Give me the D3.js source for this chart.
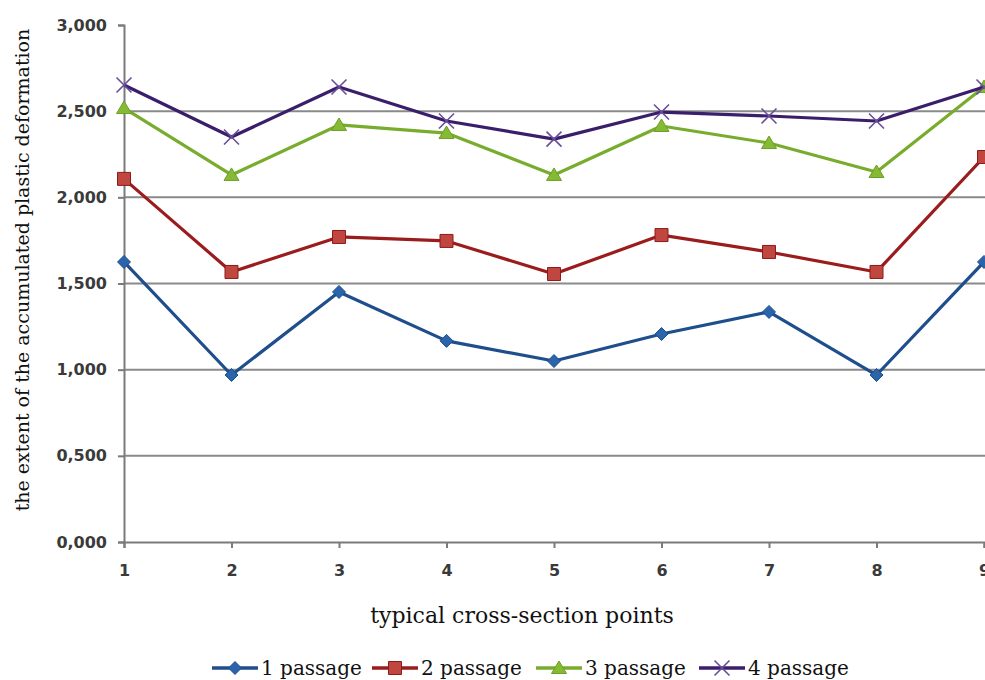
<!DOCTYPE html>
<html>
<head>
<meta charset="utf-8">
<script src="https://cdn.jsdelivr.net/npm/d3@7"></script>
<style>
  html, body { margin: 0; padding: 0; background: #fff; }
  svg { display: block; }
</style>
</head>
<body>
<svg id="chart" width="985" height="680"></svg>
<script>
const categories = [1, 2, 3, 4, 5, 6, 7, 8, 9];
const seriesNames = ["1 passage", "2 passage", "3 passage", "4 passage"];
const passage1 = [1.625, 0.969, 1.451, 1.167, 1.050, 1.207, 1.335, 0.969, 1.625];
const passage2 = [2.107, 1.567, 1.770, 1.747, 1.555, 1.781, 1.683, 1.567, 2.234];
const passage3 = [2.518, 2.130, 2.420, 2.373, 2.130, 2.414, 2.315, 2.147, 2.640];
const passage4 = [2.652, 2.350, 2.640, 2.443, 2.338, 2.495, 2.472, 2.443, 2.640];
const yTicks = [0, 0.5, 1.0, 1.5, 2.0, 2.5, 3.0];
const xTitle = "typical cross-section points";
const yTitle = "the extent of the accumulated plastic deformation";

const seriesValues = [passage1, passage2, passage3, passage4];
const styles = [
  { line: "#1F4E8C", fill: "#2A64AA", stroke: "#1F4E8C", shape: "diamond" },
  { line: "#9B1C1C", fill: "#C0473F", stroke: "#8E1A1A", shape: "square" },
  { line: "#78AC2C", fill: "#84BA34", stroke: "#6E9E28", shape: "triangle" },
  { line: "#3A1E6B", fill: "none", stroke: "#6A4E9A", shape: "x" }
];

const svg = d3.select("#chart");
const x = d3.scaleLinear().domain([1, 9]).range([124, 984]);
const y = d3.scaleLinear().domain([0, 3]).range([542, 25]);

const fmt = v => d3.format(".3f")(v).replace(".", ",");

// gridlines
svg.append("g").selectAll("line")
  .data(yTicks.filter(t => t > 0 && t < 3))
  .join("line")
  .attr("x1", x(1)).attr("x2", 985)
  .attr("y1", d => y(d)).attr("y2", d => y(d))
  .attr("stroke", "#8a8a8a").attr("stroke-width", 2);

const tickFont = "'DejaVu Sans', Verdana, sans-serif";

// y axis
const yAxis = d3.axisLeft(y).tickValues(yTicks).tickFormat(fmt).tickSize(6).tickPadding(11);
const gy = svg.append("g").attr("transform", `translate(${x(1)},0)`).call(yAxis);
gy.select(".domain").attr("stroke", "#7a7a7a").attr("stroke-width", 2);
gy.selectAll(".tick line").attr("stroke", "#7a7a7a").attr("stroke-width", 2);
gy.selectAll("text").attr("font-family", tickFont)
  .attr("font-size", 16).attr("font-weight", "bold").attr("fill", "#3a3a3a");

// x axis
const xAxis = d3.axisBottom(x).tickValues(categories).tickFormat(d3.format("d")).tickSize(6).tickPadding(17);
const gx = svg.append("g").attr("transform", `translate(0,${y(0)})`).call(xAxis);
gx.select(".domain").attr("stroke", "#7a7a7a").attr("stroke-width", 2);
gx.selectAll(".tick line").attr("stroke", "#7a7a7a").attr("stroke-width", 2);
gx.selectAll("text").attr("font-family", tickFont)
  .attr("font-size", 16).attr("font-weight", "bold").attr("fill", "#3a3a3a");

function markerPath(shape) {
  if (shape === "diamond") return "M0,-6.5L6.5,0L0,6.5L-6.5,0Z";
  if (shape === "square") return "M-6.5,-6.5H6.5V6.5H-6.5Z";
  if (shape === "triangle") return "M0,-7L7.5,5.5H-7.5Z";
  return "M-7.5,-7.5L7.5,7.5M-7.5,7.5L7.5,-7.5";
}

function drawMarker(g, s, px, py) {
  g.append("path")
    .attr("transform", `translate(${px},${py})`)
    .attr("d", markerPath(s.shape))
    .attr("fill", s.fill)
    .attr("stroke", s.stroke)
    .attr("stroke-width", s.shape === "x" ? 1.6 : 1);
}

const line = d3.line().x((d, i) => x(categories[i])).y(d => y(d));

seriesValues.forEach((vals, si) => {
  const s = styles[si];
  const g = svg.append("g");
  g.append("path").datum(vals).attr("d", line)
    .attr("fill", "none").attr("stroke", s.line).attr("stroke-width", 3.2)
    .attr("stroke-linejoin", "round");
  vals.forEach((v, i) => drawMarker(g, s, x(categories[i]), y(v)));
});

const serif = "'DejaVu Serif', 'Liberation Serif', serif";

// axis titles
svg.append("text").attr("x", 522).attr("y", 623).attr("text-anchor", "middle")
  .attr("font-family", serif)
  .attr("font-size", 22).attr("fill", "#111").text(xTitle);

svg.append("text").attr("transform", "translate(29,270) rotate(-90)")
  .attr("text-anchor", "middle")
  .attr("font-family", serif)
  .attr("font-size", 19).attr("fill", "#111").text(yTitle);

// legend
const legendX = [212, 372, 536, 699];
seriesNames.forEach((name, i) => {
  const s = styles[i];
  const g = svg.append("g").attr("transform", `translate(${legendX[i]},668)`);
  g.append("line").attr("x1", 0).attr("x2", 46).attr("y1", 0).attr("y2", 0)
    .attr("stroke", s.line).attr("stroke-width", 3.5);
  drawMarker(g, s, 23, 0);
  g.append("text").attr("x", 49).attr("y", 7)
    .attr("font-family", serif)
    .attr("font-size", 20).attr("fill", "#111").text(name);
});
</script>
</body>
</html>
